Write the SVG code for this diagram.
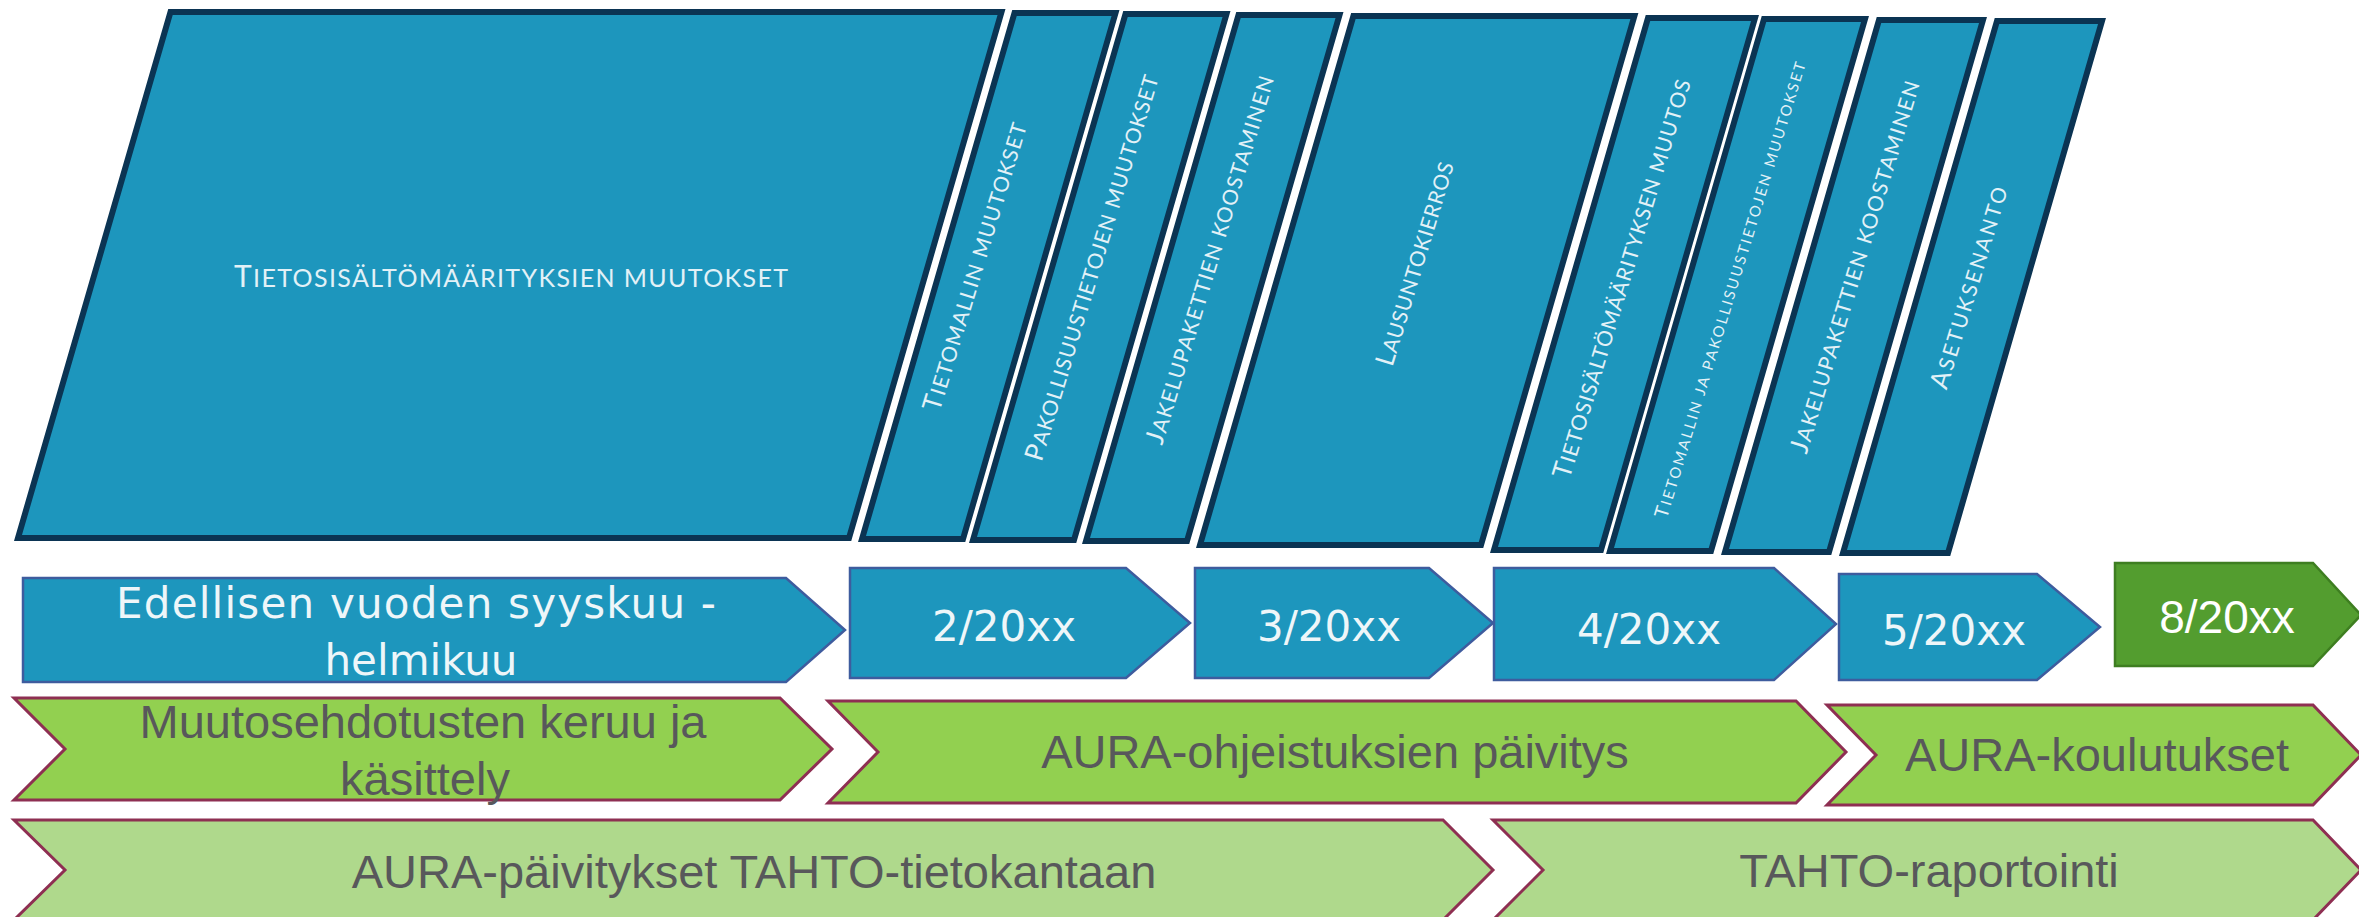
<svg xmlns="http://www.w3.org/2000/svg" width="2359" height="917" viewBox="0 0 2359 917">
<style>
.top{fill:#1D96BD;stroke:#0B3453;stroke-width:6;stroke-linejoin:miter}
.tt{font-family:Lato,"Open Sans",sans-serif;fill:#E2F1F7;text-anchor:middle}
.b{font-size:26px}
.s{font-size:21px}
.blue{fill:#1D96BD;stroke:#3E5C9E;stroke-width:2.5}
.dt{font-family:"DejaVu Sans",sans-serif;font-size:42px;fill:#EEF6F9;text-anchor:middle}
.g1{fill:#92D050;stroke:#8E2F52;stroke-width:3}
.g2{fill:#AFD98C;stroke:#8E2F52;stroke-width:3}
.gt{font-family:"Liberation Sans",Arial,sans-serif;font-size:47px;fill:#58585B;text-anchor:middle}
</style>
<rect width="2359" height="917" fill="#FFFFFF"/>
<g id="connectors"/>

<g id="phase-tietosisalto">
<polygon class="top" points="170.5,12 1001.5,12 849,538 18,538"/>
<text class="tt" x="511" y="287" textLength="554"><tspan font-size="30">T</tspan><tspan font-size="25">IETOSISÄLTÖMÄÄRITYKSIEN MUUTOKSET</tspan></text>
</g>
<g id="phase-tietomalli">
<polygon class="top" points="1014.5,13 1115.5,13 963,539 862,539"/>
<text class="tt" transform="translate(976,267) rotate(-73)" y="7.5" textLength="300"><tspan class="b">T</tspan><tspan class="s">IETOMALLIN MUUTOKSET</tspan></text>
</g>
<g id="phase-pakollisuus">
<polygon class="top" points="1125.5,14 1226.5,14 1074,540 973,540"/>
<text class="tt" transform="translate(1093,268) rotate(-73)" y="7.5" textLength="402"><tspan class="b">P</tspan><tspan class="s">AKOLLISUUSTIETOJEN MUUTOKSET</tspan></text>
</g>
<g id="phase-jakelu1">
<polygon class="top" points="1238.5,15 1339.5,15 1187,541 1086,541"/>
<text class="tt" transform="translate(1211,260) rotate(-73)" y="7.5" textLength="384"><tspan class="b">J</tspan><tspan class="s">AKELUPAKETTIEN KOOSTAMINEN</tspan></text>
</g>
<g id="phase-lausunto">
<polygon class="top" points="1353.4,16 1634.4,16 1481,545 1200,545"/>
<text class="tt" transform="translate(1416,264) rotate(-73)" y="7.5" textLength="212"><tspan class="b">L</tspan><tspan class="s">AUSUNTOKIERROS</tspan></text>
</g>
<g id="phase-tietosisalto2">
<polygon class="top" points="1648,18 1755,18 1601,550 1494,550"/>
<text class="tt" transform="translate(1623,279) rotate(-73)" y="7.5" textLength="416"><tspan class="b">T</tspan><tspan class="s">IETOSISÄLTÖMÄÄRITYKSEN MUUTOS</tspan></text>
</g>
<g id="phase-tietomalli2">
<polygon class="top" points="1764,19 1865,19 1711,551 1610,551"/>
<text class="tt" transform="translate(1731,290) rotate(-73)" y="5.5" textLength="476"><tspan font-size="19">T</tspan><tspan font-size="15">IETOMALLIN JA PAKOLLISUUSTIETOJEN MUUTOKSET</tspan></text>
</g>
<g id="phase-jakelu2">
<polygon class="top" points="1879,20 1983,20 1829,552 1725,552"/>
<text class="tt" transform="translate(1856,267) rotate(-73)" y="7.5" textLength="388"><tspan class="b">J</tspan><tspan class="s">AKELUPAKETTIEN KOOSTAMINEN</tspan></text>
</g>
<g id="phase-asetus">
<polygon class="top" points="1997,21 2102,21 1948,553 1843,553"/>
<text class="tt" transform="translate(1970,288) rotate(-73)" y="7.5" textLength="210"><tspan class="b">A</tspan><tspan class="s">SETUKSENANTO</tspan></text>
</g>

<g id="time-edellinen">
<polygon class="blue" points="23,578 786,578 845,630 786,682 23,682"/>
<text class="dt" x="416" y="618" textLength="600">Edellisen vuoden syyskuu -</text>
<text class="dt" x="421" y="675">helmikuu</text>
</g>
<g id="time-2">
<polygon class="blue" points="850,568 1126,568 1190,623 1126,678 850,678"/>
<text class="dt" x="1004" y="641">2/20xx</text>
</g>
<g id="time-3">
<polygon class="blue" points="1195,568 1429,568 1493,623 1429,678 1195,678"/>
<text class="dt" x="1329" y="641">3/20xx</text>
</g>
<g id="time-4">
<polygon class="blue" points="1494,568 1774,568 1836,624 1774,680 1494,680"/>
<text class="dt" x="1649" y="644">4/20xx</text>
</g>
<g id="time-5">
<polygon class="blue" points="1839,574 2037,574 2100,627 2037,680 1839,680"/>
<text class="dt" x="1954" y="645">5/20xx</text>
</g>
<g id="time-8">
<polygon fill="#539D2F" stroke="#3E7E21" stroke-width="2.5" points="2115,563 2313,563 2361,615 2313,666 2115,666"/>
<text x="2227" y="633" font-family="'Liberation Sans',Arial,sans-serif" font-size="46" fill="#FFFFFF" text-anchor="middle">8/20xx</text>
</g>

<g id="task-muutosehdotukset">
<polygon class="g1" points="14,698 780,698 832,749 780,800 14,800 65,749"/>
<text class="gt" x="423" y="738">Muutosehdotusten keruu ja</text>
<text class="gt" x="425" y="795">käsittely</text>
</g>
<g id="task-ohjeistus">
<polygon class="g1" points="828,701 1796,701 1846,752 1796,803 828,803 878,752"/>
<text class="gt" x="1335" y="768">AURA-ohjeistuksien päivitys</text>
</g>
<g id="task-koulutukset">
<polygon class="g1" points="1827,705 2313,705 2361,755 2313,805 1827,805 1876,755"/>
<text class="gt" x="2097" y="771">AURA-koulutukset</text>
</g>
<g id="task-paivitykset">
<polygon class="g2" points="14,820 1443,820 1493,870 1443,920 14,920 65,870"/>
<text class="gt" x="754" y="888">AURA-päivitykset TAHTO-tietokantaan</text>
</g>
<g id="task-raportointi">
<polygon class="g2" points="1493,820 2313,820 2361,870 2313,920 1493,920 1543,870"/>
<text class="gt" x="1929" y="887">TAHTO-raportointi</text>
</g>
</svg>
